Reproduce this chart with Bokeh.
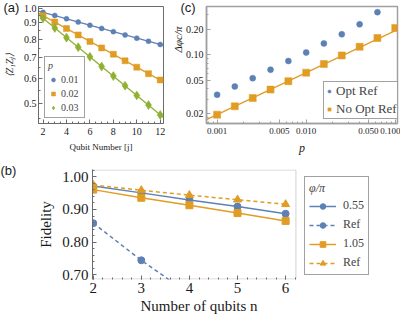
import math
from bokeh.plotting import figure
from bokeh.models import (Range1d, FixedTicker, Legend, LegendItem, Title,
                          BoxAnnotation, PrintfTickFormatter)
from bokeh.layouts import column, row
from bokeh.embed import file_html
from bokeh.resources import INLINE

BLUE = "#5E81B5"
ORANGE = "#E19C24"
GREEN = "#8FB032"
SERIF = "Liberation Serif"
SANS = "Liberation Sans"
FRAME = "#6b6b6b"
CFR = "#a0a0a0"
TXT = "#1a1a1a"

# ---------------- panel (a) data ----------------
qubit_j = [2, 3, 4, 5, 6, 7, 8, 9, 10, 11, 12]
zz_p001 = [0.972, 0.950, 0.928, 0.906, 0.885, 0.865, 0.845, 0.825, 0.806, 0.788, 0.770]
zz_p002 = [0.949, 0.906, 0.864, 0.825, 0.787, 0.751, 0.717, 0.684, 0.653, 0.623, 0.595]
zz_p003 = [0.931, 0.868, 0.809, 0.755, 0.704, 0.656, 0.612, 0.571, 0.532, 0.496, 0.462]
fit_j = [1.61, 12.28]
fit_p001 = [0.981, 0.765]
fit_p002 = [0.966, 0.587]
fit_p003 = [0.957, 0.453]
p_labels = ["0.01", "0.02", "0.03"]
a_xticks = [2, 4, 6, 8, 10, 12]
a_xminor = [x / 2 for x in range(4, 25)]
a_yticks = [0.5, 0.6, 0.7, 0.8, 0.9, 1.0]
a_yminor = [0.45, 0.55, 0.65, 0.75, 0.85, 0.95]

# ---------------- panel (c) data ----------------
p_vals = [0.001, 0.00158, 0.00251, 0.00398, 0.00631, 0.01, 0.0158, 0.0251, 0.0398, 0.0631, 0.1]
opt_ref = [0.0337, 0.0423, 0.0531, 0.0670, 0.0848, 0.107, 0.137, 0.176, 0.231, 0.322]
no_opt_ref = [0.0196, 0.0246, 0.0308, 0.0389, 0.0489, 0.0617, 0.0781, 0.0989, 0.125, 0.159, 0.209]
fit_p = [0.00076, 0.106]
fit_no_opt = [0.0171, 0.200]
c_xticks = [0.001, 0.005, 0.01, 0.05, 0.1]
c_xlabels = ["0.001", "0.005", "0.010", "0.050", "0.100"]
c_xminor = [0.0008, 0.0009, 0.002, 0.003, 0.004, 0.006, 0.007, 0.008, 0.009,
            0.02, 0.03, 0.04, 0.06, 0.07, 0.08, 0.09]
c_yticks = [0.02, 0.05, 0.1, 0.2]
c_ylabels = ["0.02", "0.05", "0.10", "0.20"]
c_yminor = [0.016, 0.018, 0.03, 0.04, 0.06, 0.07, 0.08, 0.09, 0.3]
c_legend = ["Opt Ref", "No Opt Ref"]

# ---------------- panel (b) data ----------------
qubits_n = [2, 3, 4, 5, 6]
fid_055 = [0.972, 0.951, 0.929, 0.909, 0.887]
qubits_n_ref055 = [2, 3, 4]
fid_055_ref = [0.858, 0.744, 0.640]
fid_105 = [0.961, 0.936, 0.913, 0.889, 0.865]
fid_105_ref = [0.975, 0.959, 0.944, 0.930, 0.916]
b_xticks = [2, 3, 4, 5, 6]
b_xminor = [x / 5 for x in range(10, 32)]
b_yticks = [0.70, 0.80, 0.90, 1.00]
b_yminor = [x / 50 for x in range(34, 52)]
b_legend = ["0.55", "Ref", "1.05", "Ref"]
# visible plotting box of (b): n from 1.985 to 6.214, fidelity 0.685 .. 1.0228
b_box = (1.985, 6.214, 0.685, 1.0228)


def style_axis(ax, size, color=FRAME, lw=1):
    ax.axis_line_color = color
    ax.axis_line_width = lw
    ax.major_tick_line_color = color
    ax.minor_tick_line_color = color
    ax.major_tick_in = 4
    ax.major_tick_out = 0
    ax.minor_tick_in = 2
    ax.minor_tick_out = 0
    ax.major_label_text_font = SERIF
    ax.major_label_text_font_size = size
    ax.major_label_text_color = TXT
    ax.major_label_standoff = 2
    ax.axis_label_text_font = SERIF
    ax.axis_label_text_font_style = "normal"
    ax.axis_label_text_color = TXT


def panel_letter(p, text, offset):
    t = p.title
    t.text = text
    t.align = "left"
    t.offset = offset
    t.standoff = -17
    t.vertical_align = "bottom"
    t.text_font = SANS
    t.text_font_size = "13px"
    t.text_font_style = "normal"
    t.text_color = TXT


# ================= (a) =================
pa = figure(width=170, height=158, x_range=Range1d(1.61, 12.28),
            y_range=Range1d(0.434, 1.014), y_axis_type="log",
            min_border_left=35, min_border_right=7, min_border_top=6,
            min_border_bottom=35, output_backend="svg", toolbar_location=None)
pa.grid.visible = False
pa.outline_line_color = FRAME
xa = pa.xaxis[0]
ya = pa.yaxis[0]
style_axis(xa, "10px")
style_axis(ya, "10px")
xa.ticker = FixedTicker(ticks=a_xticks, minor_ticks=a_xminor)
ya.ticker = FixedTicker(ticks=a_yticks, minor_ticks=a_yminor)
ya.formatter = PrintfTickFormatter(format="%.1f")
xa.major_label_standoff = 4
xa.axis_label = "Qubit Number [j]"
xa.axis_label_text_font_size = "9px"
xa.axis_label_standoff = 4
ya.axis_label = "⟨Z₁Zⱼ⟩"
ya.axis_label_text_font_size = "10px"
ya.axis_label_text_font_style = "italic"
ya.axis_label_standoff = 6
panel_letter(pa, "(a)", -35)

items_a = []
for ys, fit, col, mk, sz, lab in [(zz_p001, fit_p001, BLUE, "circle", 5, p_labels[0]),
                                   (zz_p002, fit_p002, ORANGE, "square", 6, p_labels[1]),
                                   (zz_p003, fit_p003, GREEN, "diamond", 9, p_labels[2])]:
    pa.line(fit_j, fit, line_color=col, line_width=1.3)
    r = pa.scatter(qubit_j, ys, marker=mk, size=sz, fill_color=col,
                   line_color=col, line_alpha=0.5)
    items_a.append(LegendItem(label=lab, renderers=[r]))
leg_a = Legend(items=items_a, location=(6, 5), title="p",
               title_text_font=SERIF, title_text_font_size="10px",
               title_standoff=2, label_text_font=SERIF,
               label_text_font_size="10px", glyph_width=10, glyph_height=13,
               label_height=13, label_standoff=3, spacing=1, padding=3,
               margin=0, border_line_color="#444444", border_line_width=1)
pa.add_layout(leg_a)

# ================= (c) =================
pc = figure(width=230, height=158, x_axis_type="log", y_axis_type="log",
            x_range=Range1d(0.00076, 0.106), y_range=Range1d(0.0154, 0.376),
            min_border_left=34, min_border_right=3, min_border_top=6,
            min_border_bottom=35, output_backend="svg", toolbar_location=None)
pc.grid.visible = False
pc.outline_line_color = CFR
pc.outline_line_width = 1.5
xc = pc.xaxis[0]
yc = pc.yaxis[0]
style_axis(xc, "9px", color=CFR, lw=1.5)
style_axis(yc, "10px", color=CFR, lw=1.5)
xc.ticker = FixedTicker(ticks=c_xticks, minor_ticks=c_xminor)
yc.ticker = FixedTicker(ticks=c_yticks, minor_ticks=c_yminor)
xc.major_label_overrides = dict(zip(c_xticks, c_xlabels))
yc.major_label_overrides = dict(zip(c_yticks, c_ylabels))
yc.major_label_standoff = 3
xc.major_label_standoff = 4
xc.axis_label = "p"
xc.axis_label_text_font_size = "12px"
xc.axis_label_text_font_style = "italic"
xc.axis_label_standoff = 4
panel_letter(pc, "(c)", -26)
pc.add_layout(Title(text="Δφc/π", align="right", offset=20, standoff=-2,
                    vertical_align="bottom", text_font=SERIF,
                    text_font_size="11px", text_font_style="italic",
                    text_color=TXT), "left")

pc.line(fit_p, fit_no_opt, line_color=ORANGE, line_width=1.3)
rc1 = pc.scatter(p_vals[:len(opt_ref)], opt_ref, marker="circle", size=6,
                 fill_color=BLUE, line_color=BLUE, line_alpha=0.5)
rc2 = pc.scatter(p_vals, no_opt_ref, marker="square", size=7,
                 fill_color=ORANGE, line_color=ORANGE, line_alpha=0.5)
leg_c = Legend(items=[LegendItem(label=c_legend[0], renderers=[rc1]),
                      LegendItem(label=c_legend[1], renderers=[rc2])],
               location=(117, 4), label_text_font=SERIF,
               label_text_font_size="13px", glyph_width=8, glyph_height=16,
               label_height=16, label_standoff=3, spacing=2, padding=1,
               margin=0, border_line_color="#444444", border_line_width=1)
pc.add_layout(leg_c)

# ================= (b) =================
# frame extends to the right so that the legend can sit beside the plot box
pb = figure(width=400, height=160, x_range=Range1d(b_box[0], 8.326),
            y_range=Range1d(b_box[2], b_box[3]),
            min_border_left=92, min_border_right=3, min_border_top=11,
            min_border_bottom=34, output_backend="svg", toolbar_location=None)
pb.grid.visible = False
pb.outline_line_color = None
xb = pb.xaxis[0]
yb = pb.yaxis[0]
style_axis(xb, "15px")
style_axis(yb, "15px")
xb.axis_line_color = None
xb.ticker = FixedTicker(ticks=b_xticks, minor_ticks=b_xminor)
yb.ticker = FixedTicker(ticks=b_yticks, minor_ticks=b_yminor)
yb.formatter = PrintfTickFormatter(format="%.2f")
yb.major_label_standoff = 4
xb.major_label_standoff = 3
yb.axis_label = "Fidelity"
yb.axis_label_text_font_size = "15px"
yb.axis_label_standoff = 5
pb.add_layout(Title(text="Number of qubits n", align="left", offset=48,
                    standoff=5, vertical_align="top", text_font=SERIF,
                    text_font_size="15px", text_font_style="normal",
                    text_color=TXT), "below")
panel_letter(pb, "(b)", -92)
pb.add_layout(BoxAnnotation(left=b_box[0], right=b_box[1],
                            bottom=b_box[2] + 0.0015, top=b_box[3] - 0.0015,
                            fill_color=None, fill_alpha=0, line_color=FRAME,
                            line_width=1))

l1 = pb.line(qubits_n, fid_055, line_color=BLUE, line_width=1.5)
s1 = pb.scatter(qubits_n, fid_055, marker="circle", size=7, fill_color=BLUE, line_color=BLUE)
l2 = pb.line(qubits_n_ref055, fid_055_ref, line_color=BLUE, line_width=1.5, line_dash="4 3")
s2 = pb.scatter(qubits_n_ref055, fid_055_ref, marker="circle", size=7, fill_color=BLUE, line_color=BLUE)
l3 = pb.line(qubits_n, fid_105, line_color=ORANGE, line_width=1.5)
s3 = pb.scatter(qubits_n, fid_105, marker="square", size=7, fill_color=ORANGE, line_color=ORANGE)
l4 = pb.line(qubits_n, fid_105_ref, line_color=ORANGE, line_width=1.5, line_dash="4 3")
s4 = pb.scatter(qubits_n, fid_105_ref, marker="triangle", size=8, fill_color=ORANGE, line_color=ORANGE)
leg_b = Legend(items=[LegendItem(label=b_legend[0], renderers=[l1, s1]),
                      LegendItem(label=b_legend[1], renderers=[l2, s2]),
                      LegendItem(label=b_legend[2], renderers=[l3, s3]),
                      LegendItem(label=b_legend[3], renderers=[l4, s4])],
               location=(212, 4), title="φ/π", title_text_font=SERIF,
               title_text_font_size="12px", title_text_font_style="italic",
               title_standoff=2, label_text_font=SERIF,
               label_text_font_size="12px", glyph_width=27, glyph_height=14,
               label_height=14, label_standoff=7, spacing=4, padding=4,
               margin=0, border_line_color="#444444", border_line_width=1)
pb.add_layout(leg_b)

layout = column(row(pa, pc), pb)
open("out.html", "w").write(file_html(layout, INLINE))
